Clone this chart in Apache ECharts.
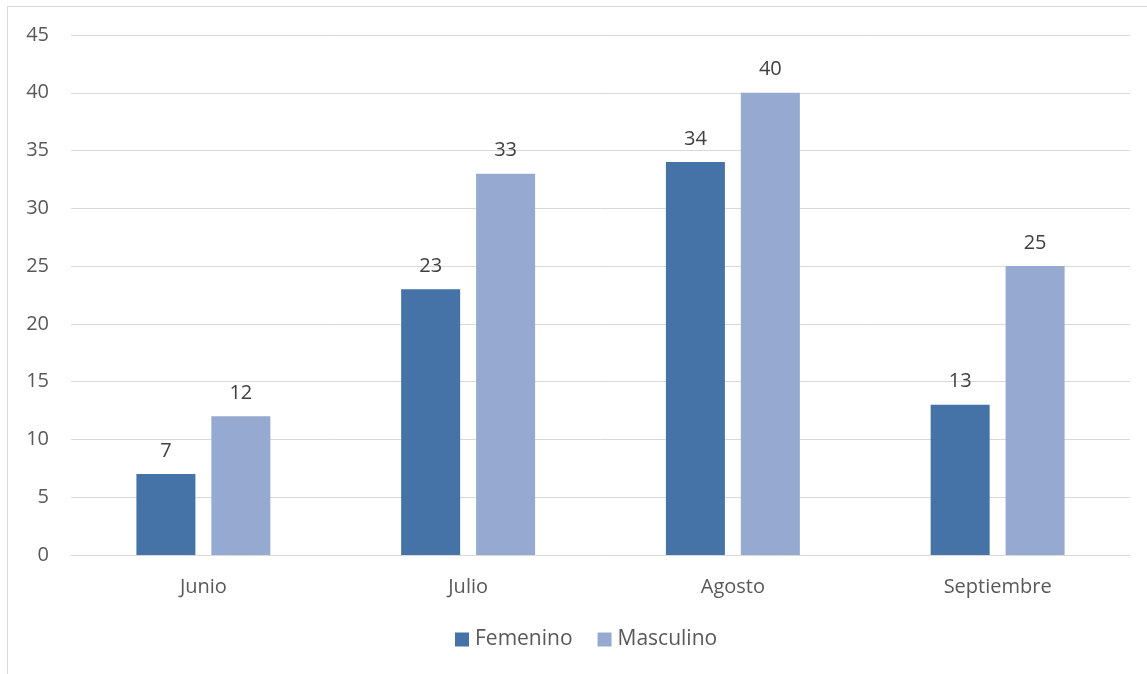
<!DOCTYPE html>
<html>
<head>
<meta charset="utf-8">
<script src="https://cdn.jsdelivr.net/npm/echarts@6/dist/echarts.min.js"></script>
<style>
  html, body { margin: 0; padding: 0; background: #fff; }
  #frame { position: absolute; left: 7px; top: 6px; width: 1150px; height: 680px; border: 1px solid #d9d9d9; box-sizing: border-box; }
  #chart { position: absolute; left: 0; top: 0; width: 1147px; height: 674px; }
</style>
</head>
<body>
<div id="frame"></div>
<div id="chart"></div>
<script>
// Monthly counts by sex
const months = ['Junio', 'Julio', 'Agosto', 'Septiembre'];
const femenino = [7, 23, 34, 13];
const masculino = [12, 33, 40, 25];
const yTicks = { min: 0, max: 45, interval: 5 };

const font = '"Open Sans", "Noto Sans", sans-serif';
const chart = echarts.init(document.getElementById('chart'), null, { renderer: 'canvas' });

const labelStyle = {
  show: true,
  position: 'top',
  distance: 13,
  color: '#404040',
  fontFamily: font,
  fontSize: 20
};

chart.setOption({
  animation: false,
  backgroundColor: 'transparent',
  grid: { left: 71, right: 17, top: 35, bottom: 119, containLabel: false },
  legend: {
    bottom: 19,
    left: 450,
    itemWidth: 14,
    itemHeight: 14,
    itemGap: 25,
    icon: 'rect',
    textStyle: { color: '#595959', fontFamily: font, fontSize: 21, padding: [0, 0, 0, 1] },
    data: ['Femenino', 'Masculino']
  },
  xAxis: {
    type: 'category',
    data: months,
    axisLine: { show: true, lineStyle: { color: '#d9d9d9', width: 1 } },
    axisTick: { show: false },
    axisLabel: { color: '#595959', fontFamily: font, fontSize: 20, margin: 22 }
  },
  yAxis: {
    type: 'value',
    min: yTicks.min,
    max: yTicks.max,
    interval: yTicks.interval,
    axisLine: { show: false },
    axisTick: { show: false },
    axisLabel: { color: '#595959', fontFamily: font, fontSize: 20, margin: 22 },
    splitLine: { lineStyle: { color: '#d9d9d9', width: 1 } }
  },
  series: [
    {
      name: 'Femenino',
      type: 'bar',
      data: femenino,
      barWidth: 59,
      barGap: '27%',
      itemStyle: { color: '#4572A7' },
      label: labelStyle
    },
    {
      name: 'Masculino',
      type: 'bar',
      data: masculino,
      barWidth: 59,
      itemStyle: { color: '#95A9D1' },
      label: labelStyle
    }
  ]
});
</script>
</body>
</html>
